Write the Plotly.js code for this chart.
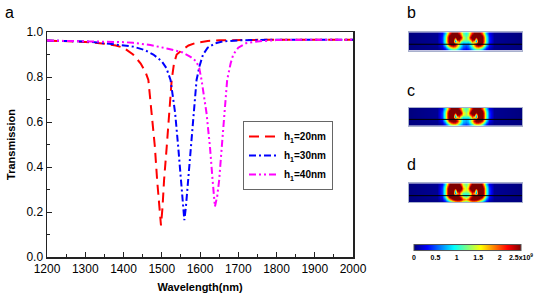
<!DOCTYPE html>
<html>
<head>
<meta charset="utf-8">
<script src="https://cdn.plot.ly/plotly-3.0.1.min.js"></script>
<style>html,body{margin:0;padding:0;background:#fff;}#chart{width:540px;height:298px;}</style>
</head>
<body>
<div id="chart"></div>
<script>
// ---- Transmission spectra ----
const wl20 = [1200,1250,1300,1350,1380,1400,1425,1445,1458,1465,1474,1482,1488,1493,1498,1502,1506,1513,1520,1526,1532,1539,1553,1570,1590,1620,1650,1700,1800,1900,2000];
const tr20 = [0.962,0.960,0.956,0.948,0.940,0.930,0.900,0.860,0.820,0.787,0.640,0.490,0.340,0.220,0.140,0.220,0.340,0.490,0.640,0.787,0.860,0.900,0.920,0.940,0.952,0.960,0.963,0.965,0.966,0.966,0.966];

const wl30 = [1200,1300,1341,1400,1425,1455,1478,1500,1512,1523,1535,1543,1550,1556,1559,1563,1569,1576,1582,1591,1599,1608,1620,1640,1660,1700,1800,1900,2000];
const tr30 = [0.962,0.958,0.952,0.942,0.935,0.920,0.900,0.870,0.840,0.787,0.640,0.490,0.340,0.220,0.164,0.220,0.340,0.490,0.640,0.787,0.850,0.900,0.930,0.950,0.958,0.963,0.966,0.966,0.966];

const wl40 = [1200,1300,1400,1425,1470,1513,1553,1575,1590,1598,1604,1617,1626,1633,1639,1645,1650,1657,1665,1671,1680,1687,1700,1720,1750,1800,1900,2000];
const tr40 = [0.962,0.960,0.955,0.952,0.942,0.927,0.910,0.890,0.870,0.840,0.787,0.640,0.490,0.340,0.224,0.270,0.340,0.490,0.640,0.787,0.860,0.900,0.930,0.950,0.958,0.964,0.966,0.966];

const seriesNames = ['h<sub>1</sub>=20nm','h<sub>1</sub>=30nm','h<sub>1</sub>=40nm'];
const seriesColors = ['#ff0000','#0000ff','#ff00ff'];
const seriesDash = ['10px,6px','7px,3px,2px,3px','7px,3px,2px,3px,2px,3px'];

const xTicks = [1200,1300,1400,1500,1600,1700,1800,1900,2000];
const yTicks = [0.0,0.2,0.4,0.6,0.8,1.0];

// ---- Field maps (|E| in units of 1e9, left half, mirrored about centre) ----
const mapCols = [0,28,33,36,38,40,42,44,46,48,50,52,54,56];
const mapRows = [1,3,5,7,9,11,13,15,17];
const fieldB = [
 [0,0.05,0.3,0.8,1.4,2.0,2.4,2.6,2.6,2.5,2.2,1.7,1.2,1.0],
 [0,0.05,0.35,1.0,1.7,2.4,2.8,2.9,2.8,2.8,2.6,2.0,1.3,1.1],
 [0,0.05,0.4,1.1,1.9,2.6,2.9,2.9,2.4,2.8,2.7,2.3,1.5,1.2],
 [0,0.05,0.4,1.1,1.9,2.6,2.9,2.8,1.2,2.5,2.4,1.9,1.4,1.2],
 [0,0.05,0.4,1.1,1.9,2.6,2.9,2.6,0.6,1.6,2.0,1.2,1.0,1.1],
 [0,0.05,0.35,1.0,1.7,2.4,2.7,2.7,2.3,1.8,1.3,0.9,0.7,0.7],
 [0,0.05,0.3,0.8,1.4,2.0,2.4,2.5,2.3,1.8,1.3,0.9,0.6,0.5],
 [0,0.03,0.2,0.5,0.9,1.3,1.6,1.8,1.7,1.4,1.0,0.7,0.5,0.4],
 [0,0.02,0.1,0.3,0.5,0.8,1.0,1.1,1.1,0.9,0.7,0.5,0.35,0.3]
];
const fieldC = [
 [0,0.05,0.3,0.9,1.5,2.1,2.5,2.7,2.7,2.6,2.3,1.8,1.3,1.1],
 [0,0.05,0.4,1.1,1.8,2.5,2.9,2.9,2.8,2.8,2.7,2.1,1.4,1.2],
 [0,0.05,0.45,1.2,2.0,2.7,2.9,2.9,2.4,2.8,2.7,2.4,1.6,1.3],
 [0,0.05,0.45,1.2,2.0,2.7,2.9,2.8,1.1,2.5,2.4,2.0,1.5,1.3],
 [0,0.05,0.45,1.2,2.0,2.7,2.9,2.6,0.6,1.6,2.0,1.3,1.0,1.1],
 [0,0.05,0.4,1.1,1.9,2.6,2.8,2.8,2.5,2.0,1.5,1.1,0.8,0.7],
 [0,0.05,0.3,0.9,1.6,2.3,2.6,2.7,2.6,2.3,1.7,1.2,0.8,0.7],
 [0,0.03,0.2,0.6,1.1,1.6,2.0,2.2,2.2,1.9,1.4,1.0,0.7,0.6],
 [0,0.02,0.1,0.35,0.6,1.0,1.3,1.4,1.4,1.2,0.9,0.7,0.5,0.4]
];
const fieldD = [
 [0,0.05,0.3,0.9,1.6,2.3,2.7,2.9,2.9,2.8,2.6,2.0,1.4,1.2],
 [0,0.05,0.4,1.1,1.9,2.6,3.0,3.0,2.9,2.9,2.9,2.4,1.6,1.3],
 [0,0.05,0.45,1.2,2.1,2.8,3.0,3.0,2.5,2.9,2.9,2.6,1.8,1.4],
 [0,0.05,0.45,1.2,2.1,2.8,3.0,2.9,1.1,2.6,2.6,2.2,1.6,1.4],
 [0,0.05,0.45,1.2,2.1,2.8,3.0,2.7,0.6,1.7,2.1,1.4,1.1,1.1],
 [0,0.05,0.4,1.1,2.0,2.7,3.0,2.9,2.8,2.6,2.2,1.6,1.1,0.9],
 [0,0.05,0.3,0.9,1.6,2.3,2.7,2.9,2.9,2.8,2.6,2.2,1.6,1.3],
 [0,0.03,0.2,0.6,1.1,1.6,2.0,2.4,2.6,2.7,2.6,2.4,2.0,1.8],
 [0,0.02,0.1,0.35,0.6,0.9,1.2,1.5,1.8,1.9,1.9,1.7,1.4,1.2]
];
const cbTickVals = [0,0.5,1,1.5,2,2.5];
const cbTickText = ['0','0.5','1','1.5','2','2.5x10<sup>9</sup>'];

// ---- build ----
const W = 540, H = 298;
const px = v => v / W, py = v => 1 - v / H;
const FONT = 'Arial, "Liberation Sans", sans-serif';

const mapWidth = 112;
const fullCols = mapCols.concat(mapCols.slice(0, -1).reverse().map(p => mapWidth - p));
const mirror = rows => rows.map(r => r.concat(r.slice(0, -1).reverse()));

const jet = [[0,'#00007f'],[0.125,'#0000ff'],[0.375,'#00ffff'],[0.625,'#ffff00'],[0.875,'#ff0000'],[1,'#7f0000']];

const spectra = [[wl20,tr20],[wl30,tr30],[wl40,tr40]];
const traces = spectra.map((s, i) => ({
  type: 'scatter', mode: 'lines', x: s[0], y: s[1], name: seriesNames[i],
  line: {color: seriesColors[i], width: 2, dash: seriesDash[i]},
  xaxis: 'x', yaxis: 'y'
}));

const fields = [fieldB, fieldC, fieldD];
fields.forEach((f, i) => {
  const t = {
    type: 'heatmap', x: fullCols, y: mapRows, z: mirror(f),
    colorscale: jet, zmin: 0, zmax: 2.5, zsmooth: 'best',
    xaxis: 'x' + (i + 2), yaxis: 'y' + (i + 2), showlegend: false,
    showscale: i === 0, hoverinfo: 'skip'
  };
  if (i === 0) {
    t.colorbar = {
      orientation: 'h', x: px(467.5), xanchor: 'center', y: py(252), yanchor: 'middle',
      len: 107, lenmode: 'pixels', thickness: 6, thicknessmode: 'pixels',
      outlinewidth: 1, outlinecolor: '#555', xpad: 0, ypad: 0,
      tickvals: cbTickVals, ticktext: cbTickText, ticks: '',
      tickfont: {family: FONT, size: 7, color: '#000', weight: 'bold'}
    };
  }
  traces.push(t);
});

const mapDomains = [[32.3, 50.7], [107.7, 125.7], [183.3, 202.3]];
const layout = {
  width: W, height: H, margin: {l: 0, r: 0, t: 0, b: 0},
  paper_bgcolor: '#fff', plot_bgcolor: '#fff',
  font: {family: FONT, color: '#000'},
  showlegend: true,
  legend: {
    x: px(243), y: py(121), xanchor: 'left', yanchor: 'top',
    bordercolor: '#666', borderwidth: 1, bgcolor: '#fff',
    font: {family: FONT, size: 10, weight: 'bold'}, tracegroupgap: 0
  },
  xaxis: {
    domain: [px(47), px(353)], range: [1200, 2000], tickvals: xTicks,
    ticks: 'inside', ticklen: 5, tickwidth: 1, tickcolor: '#222',
    minor: {ticks: 'inside', ticklen: 3, dtick: 50, tick0: 1200, tickcolor: '#222'},
    showline: true, linecolor: '#222', linewidth: 1.5, mirror: true,
    showgrid: false, zeroline: false, tickfont: {size: 12},
    title: {text: '<b>Wavelength(nm)</b>', font: {size: 11}, standoff: 8},
    anchor: 'y'
  },
  yaxis: {
    domain: [py(257), py(32)], range: [0, 1], tickvals: yTicks, tickformat: '.1f',
    ticks: 'inside', ticklen: 5, tickwidth: 1, tickcolor: '#222',
    minor: {ticks: 'inside', ticklen: 3, dtick: 0.1, tick0: 0, tickcolor: '#222'},
    showline: true, linecolor: '#222', linewidth: 1.5, mirror: true,
    showgrid: false, zeroline: false, tickfont: {size: 12},
    title: {text: '<b>Transmission</b>', font: {size: 11}, standoff: 8},
    anchor: 'x'
  },
  annotations: [
    {text: 'a', x: px(3), y: py(2), xref: 'paper', yref: 'paper', xanchor: 'left', yanchor: 'top', showarrow: false, font: {size: 16}},
    {text: 'b', x: px(405), y: py(2), xref: 'paper', yref: 'paper', xanchor: 'left', yanchor: 'top', showarrow: false, font: {size: 16}},
    {text: 'c', x: px(405), y: py(80), xref: 'paper', yref: 'paper', xanchor: 'left', yanchor: 'top', showarrow: false, font: {size: 16}},
    {text: 'd', x: px(405), y: py(154), xref: 'paper', yref: 'paper', xanchor: 'left', yanchor: 'top', showarrow: false, font: {size: 16}}
  ],
  shapes: []
};
mapDomains.forEach((d, i) => {
  const n = i + 2;
  layout['xaxis' + n] = {
    domain: [px(409), px(522)], range: [0, mapWidth], anchor: 'y' + n,
    showticklabels: false, ticks: '', showgrid: false, zeroline: false,
    showline: true, mirror: true, linecolor: '#a8b0cc', linewidth: 1
  };
  layout['yaxis' + n] = {
    domain: [py(d[1]), py(d[0])], range: [18, 0], anchor: 'x' + n,
    showticklabels: false, ticks: '', showgrid: false, zeroline: false,
    showline: true, mirror: true, linecolor: '#a8b0cc', linewidth: 1
  };
  layout.shapes.push({type: 'line', xref: 'x' + n + ' domain', yref: 'y' + n + ' domain',
    x0: 0, x1: 1, y0: 0.35, y1: 0.35, line: {color: '#000', width: 1}});
});

Plotly.newPlot('chart', traces, layout, {displayModeBar: false, staticPlot: true});
</script>
</body>
</html>
